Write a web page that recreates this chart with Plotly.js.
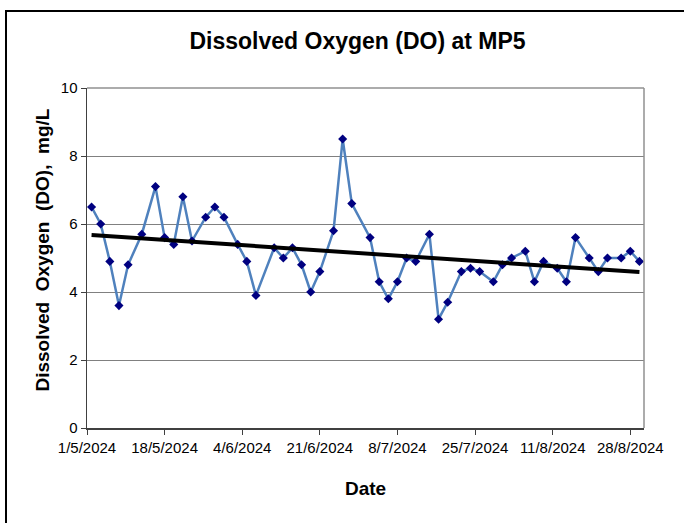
<!DOCTYPE html>
<html>
<head>
<meta charset="utf-8">
<script src="https://cdn.plot.ly/plotly-3.0.1.min.js"></script>
<style>
  html, body { margin: 0; padding: 0; background: #ffffff; overflow: hidden; }
  #frame { position: absolute; left: 5px; top: 10px; width: 700px; height: 540px;
           border-left: 2px solid #000; border-top: 2px solid #000; box-sizing: border-box; }
  #chart { position: absolute; left: 0; top: 0; width: 684px; height: 523px; }
</style>
</head>
<body>
<div id="frame"></div>
<div id="chart"></div>
<script>
// Sampling dates (d/m/2024) and dissolved oxygen readings (mg/L) at MP5
const sampleDates = [
  "2024-05-02","2024-05-04","2024-05-06","2024-05-08","2024-05-10","2024-05-13",
  "2024-05-16","2024-05-18","2024-05-20","2024-05-22","2024-05-24","2024-05-27",
  "2024-05-29","2024-05-31","2024-06-03","2024-06-05","2024-06-07","2024-06-11",
  "2024-06-13","2024-06-15","2024-06-17","2024-06-19","2024-06-21","2024-06-24",
  "2024-06-26","2024-06-28","2024-07-02","2024-07-04","2024-07-06","2024-07-08",
  "2024-07-10","2024-07-12","2024-07-15","2024-07-17","2024-07-19","2024-07-22",
  "2024-07-24","2024-07-26","2024-07-29","2024-07-31","2024-08-02","2024-08-05",
  "2024-08-07","2024-08-09","2024-08-12","2024-08-14","2024-08-16","2024-08-19",
  "2024-08-21","2024-08-23","2024-08-26","2024-08-28","2024-08-30"
];
const doValues = [
  6.5, 6.0, 4.9, 3.6, 4.8, 5.7,
  7.1, 5.6, 5.4, 6.8, 5.5, 6.2,
  6.5, 6.2, 5.4, 4.9, 3.9, 5.3,
  5.0, 5.3, 4.8, 4.0, 4.6, 5.8,
  8.5, 6.6, 5.6, 4.3, 3.8, 4.3,
  5.0, 4.9, 5.7, 3.2, 3.7, 4.6,
  4.7, 4.6, 4.3, 4.8, 5.0, 5.2,
  4.3, 4.9, 4.7, 4.3, 5.6, 5.0,
  4.6, 5.0, 5.0, 5.2, 4.9
];
const xTickStart = "2024-05-01";
const xRange = ["2024-05-01", "2024-08-31"];
const yTicks = [0, 2, 4, 6, 8, 10];

// Linear trend line (least squares) computed from the data
const DAY = 86400000;
const t0 = Date.parse(xTickStart + "T00:00:00Z");
const xs = sampleDates.map(d => (Date.parse(d + "T00:00:00Z") - t0) / DAY);
const n = xs.length;
const mx = xs.reduce((a, b) => a + b, 0) / n;
const my = doValues.reduce((a, b) => a + b, 0) / n;
let sxy = 0, sxx = 0;
for (let i = 0; i < n; i++) { sxy += (xs[i] - mx) * (doValues[i] - my); sxx += (xs[i] - mx) ** 2; }
const slope = sxy / sxx, icpt = my - slope * mx;
const trendX = [sampleDates[0], sampleDates[n - 1]];
const trendY = [icpt + slope * xs[0], icpt + slope * xs[n - 1]];

const narrow = "Liberation Sans Narrow, Arial Narrow, Liberation Sans, Arial, sans-serif";
const sans = "Liberation Sans, Arial, sans-serif";

const traces = [
  {
    x: sampleDates, y: doValues, type: "scatter", mode: "lines+markers",
    line: { color: "#4F81BD", width: 2.5 },
    marker: { symbol: "diamond", size: 7, color: "#000080" },
    hoverinfo: "x+y", showlegend: false
  },
  {
    x: trendX, y: trendY, type: "scatter", mode: "lines",
    line: { color: "#000000", width: 4 },
    hoverinfo: "skip", showlegend: false
  }
];

const layout = {
  width: 684, height: 523,
  paper_bgcolor: "rgba(0,0,0,0)", plot_bgcolor: "#ffffff",
  margin: { l: 87, r: 40, t: 88, b: 95, pad: 0 },
  title: {
    text: "<b>Dissolved Oxygen (DO) at MP5</b>",
    font: { family: sans, size: 23, color: "#000" },
    x: 0.5227, xref: "container", xanchor: "center",
    y: 0.921, yref: "container", yanchor: "middle"
  },
  xaxis: {
    type: "date", range: xRange,
    tick0: xTickStart, dtick: 17 * DAY, tickformat: "%-d/%-m/%Y",
    ticks: "outside", ticklen: 5, tickcolor: "#404040", tickwidth: 1,
    showline: true, linecolor: "#404040", linewidth: 1.5,
    showgrid: false, zeroline: false,
    tickfont: { family: narrow, size: 15, color: "#000" },
    title: { text: "<b>Date</b>", font: { family: sans, size: 19, color: "#000" }, standoff: 27 }
  },
  yaxis: {
    range: [0, 10], tickvals: yTicks, ticktext: yTicks.map(String),
    ticks: "outside", ticklen: 5, tickcolor: "#404040", tickwidth: 1,
    showline: true, linecolor: "#404040", linewidth: 1.5,
    showgrid: true, gridcolor: "#808080", gridwidth: 1, zeroline: false,
    tickfont: { family: narrow, size: 15, color: "#000" },
    title: { text: "<b>\u00A0\u00A0\u00A0Dissolved\u00A0 Oxygen\u00A0 (DO),\u00A0 mg/L</b>", font: { family: sans, size: 19, color: "#000" }, standoff: 6 }
  },
  shapes: [
    { type: "line", xref: "paper", yref: "paper", x0: 0, x1: 1, y0: 1, y1: 1, line: { color: "#909090", width: 1.5 } },
    { type: "line", xref: "paper", yref: "paper", x0: 1, x1: 1, y0: 0, y1: 1, line: { color: "#909090", width: 1.5 } }
  ]
};

Plotly.newPlot("chart", traces, layout, { staticPlot: true, displayModeBar: false });
</script>
</body>
</html>
